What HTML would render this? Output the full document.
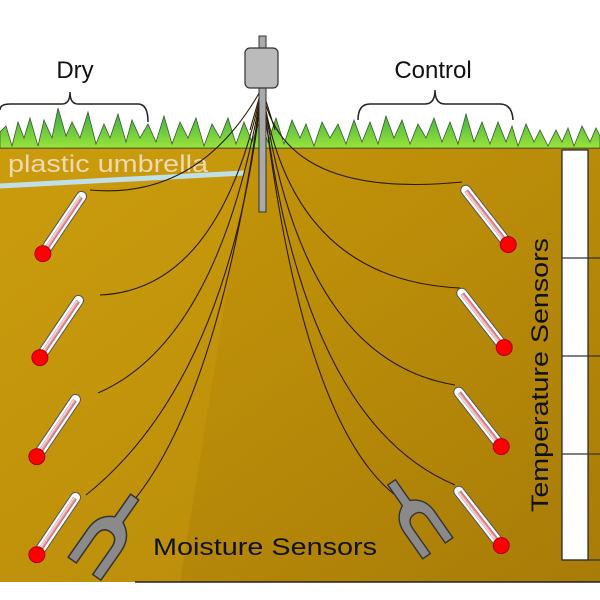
<!DOCTYPE html>
<html><head><meta charset="utf-8"><style>
html,body{margin:0;padding:0;background:#fff;width:600px;height:600px;overflow:hidden}
svg{display:block}
text{font-family:"Liberation Sans",sans-serif}
</style></head><body>
<svg width="600" height="600" viewBox="0 0 600 600" xmlns="http://www.w3.org/2000/svg">
<defs>
<linearGradient id="g" x1="0" y1="0" x2="0" y2="1"><stop offset="0" stop-color="#2fa84a"/><stop offset="1" stop-color="#9be33a"/></linearGradient>
<linearGradient id="soil" x1="0" y1="0" x2="1" y2="1"><stop offset="0" stop-color="#c99a0a"/><stop offset="1" stop-color="#a87c08"/></linearGradient>
<linearGradient id="th" x1="0" y1="0" x2="1" y2="0"><stop offset="0" stop-color="#fff"/><stop offset="1" stop-color="#e05060"/></linearGradient>
<g id="therm">
<rect x="-5" y="-72" width="10" height="72" rx="5" fill="#fff" stroke="#555" stroke-width="1"/>
<rect x="-2" y="-66" width="4" height="64" fill="url(#th)" stroke="#999" stroke-width="0.5"/>
<circle cx="0" cy="2" r="8" fill="#f00" stroke="#a00" stroke-width="1"/>
</g>
<g id="fork">
<path d="M-4,-40 L4,-40 L4,-18 Q16,-12 16,2 L16,30 L8,30 L8,4 Q8,-6 0,-6 Q-8,-6 -8,4 L-8,30 L-16,30 L-16,2 Q-16,-12 -4,-18 Z" fill="#8a8a8a" stroke="#333" stroke-width="1.2"/>
</g>
</defs>
<rect x="0" y="148" width="600" height="434" fill="url(#soil)"/>
<polygon points="0,148 250,148 180,582 0,582" fill="#cfa010" opacity="0.35"/>
<line x1="135" y1="582" x2="600" y2="582" stroke="#222" stroke-width="1.5"/>
<line x1="0" y1="148" x2="600" y2="148" stroke="#333" stroke-width="1.2"/>
<polygon fill="url(#g)" stroke="#3a5a2a" stroke-width="0.8" points="0,148 0,132 6,126 12,146 18,122 24,138 30,118 38,146 44,120 52,138 58,108 66,136 72,122 80,138 88,112 96,144 104,124 110,138 118,114 126,142 132,120 140,138 148,124 156,142 164,116 172,144 180,122 188,138 196,118 204,146 212,124 220,138 228,118 236,144 244,122 252,142 260,120 268,142 276,118 284,144 292,120 300,138 306,124 314,146 322,122 330,138 338,124 346,144 354,120 362,142 370,122 378,144 386,116 394,138 402,120 410,144 418,124 426,138 434,118 442,142 450,122 458,144 466,114 474,142 482,122 490,144 498,122 506,142 512,126 518,146 526,124 534,142 540,130 548,146 556,130 562,142 568,128 574,146 582,126 590,142 596,128 600,136 600,148"/>
<line x1="0" y1="186" x2="244" y2="173" stroke="#bfe0e8" stroke-width="5"/>
<text x="8" y="172" font-size="24" textLength="200" lengthAdjust="spacingAndGlyphs" fill="#f0d8b0">plastic umbrella</text>
<rect x="562" y="150" width="26" height="410" fill="#fff" stroke="#222" stroke-width="1.2"/>
<g stroke="#333" stroke-width="1.2"><line x1="562" y1="258" x2="600" y2="258"/><line x1="562" y1="356" x2="600" y2="356"/><line x1="562" y1="454" x2="600" y2="454"/><line x1="562" y1="560" x2="600" y2="560"/></g>
<text transform="translate(548,375) rotate(-90)" text-anchor="middle" font-size="24" textLength="274" lengthAdjust="spacingAndGlyphs" fill="#111">Temperature Sensors</text>
<g fill="none" stroke="#2a1a00" stroke-width="1.1">
<path d="M262,88 Q200,200 90,190"/>
<path d="M262,88 Q220,290 100,295"/>
<path d="M262,88 Q220,340 98,393"/>
<path d="M262,88 Q230,380 86,495"/>
<path d="M262,88 Q220,400 130,505"/>
<path d="M262,88 Q280,200 462,182"/>
<path d="M262,88 Q290,280 460,288"/>
<path d="M262,88 Q300,360 455,385"/>
<path d="M262,88 Q300,420 455,485"/>
<path d="M262,88 Q300,420 395,495"/>
<path d="M262,88 L250,130 M262,88 L255,135 M262,88 L270,135 M262,88 L275,130"/>
</g>
<rect x="259" y="36" width="7" height="176" fill="#aaa" stroke="#333" stroke-width="1"/>
<rect x="245" y="48" width="33" height="40" rx="5" fill="#bbb" stroke="#333" stroke-width="1.2"/>
<use href="#therm" transform="translate(44,252) rotate(34)"/>
<use href="#therm" transform="translate(41,356) rotate(34)"/>
<use href="#therm" transform="translate(38,455) rotate(34)"/>
<use href="#therm" transform="translate(38,553) rotate(34)"/>
<use href="#therm" transform="translate(507,243) rotate(-38)"/>
<use href="#therm" transform="translate(503,346) rotate(-38)"/>
<use href="#therm" transform="translate(500,445) rotate(-38)"/>
<use href="#therm" transform="translate(500,544) rotate(-38)"/>
<use href="#fork" transform="translate(106,538) rotate(35) scale(1.25)"/>
<use href="#fork" transform="translate(418,520) rotate(-35) scale(1.15)"/>
<text x="153" y="555" font-size="24" textLength="224" lengthAdjust="spacingAndGlyphs" fill="#111">Moisture Sensors</text>
<g fill="none" stroke="#222" stroke-width="1.5">
<path d="M0,110 Q0,104 10,104 L62,104 Q70,104 70,92 Q70,104 78,104 L138,104 Q148,104 148,122"/>
<path d="M358,120 Q358,104 370,104 L425,104 Q435,104 435,90 Q435,104 445,104 L500,104 Q512,104 513,120"/>
</g>
<text x="75" y="78" font-size="24" text-anchor="middle" fill="#111">Dry</text>
<text x="433" y="78" font-size="24" text-anchor="middle" fill="#111">Control</text>
</svg>
</body></html>
